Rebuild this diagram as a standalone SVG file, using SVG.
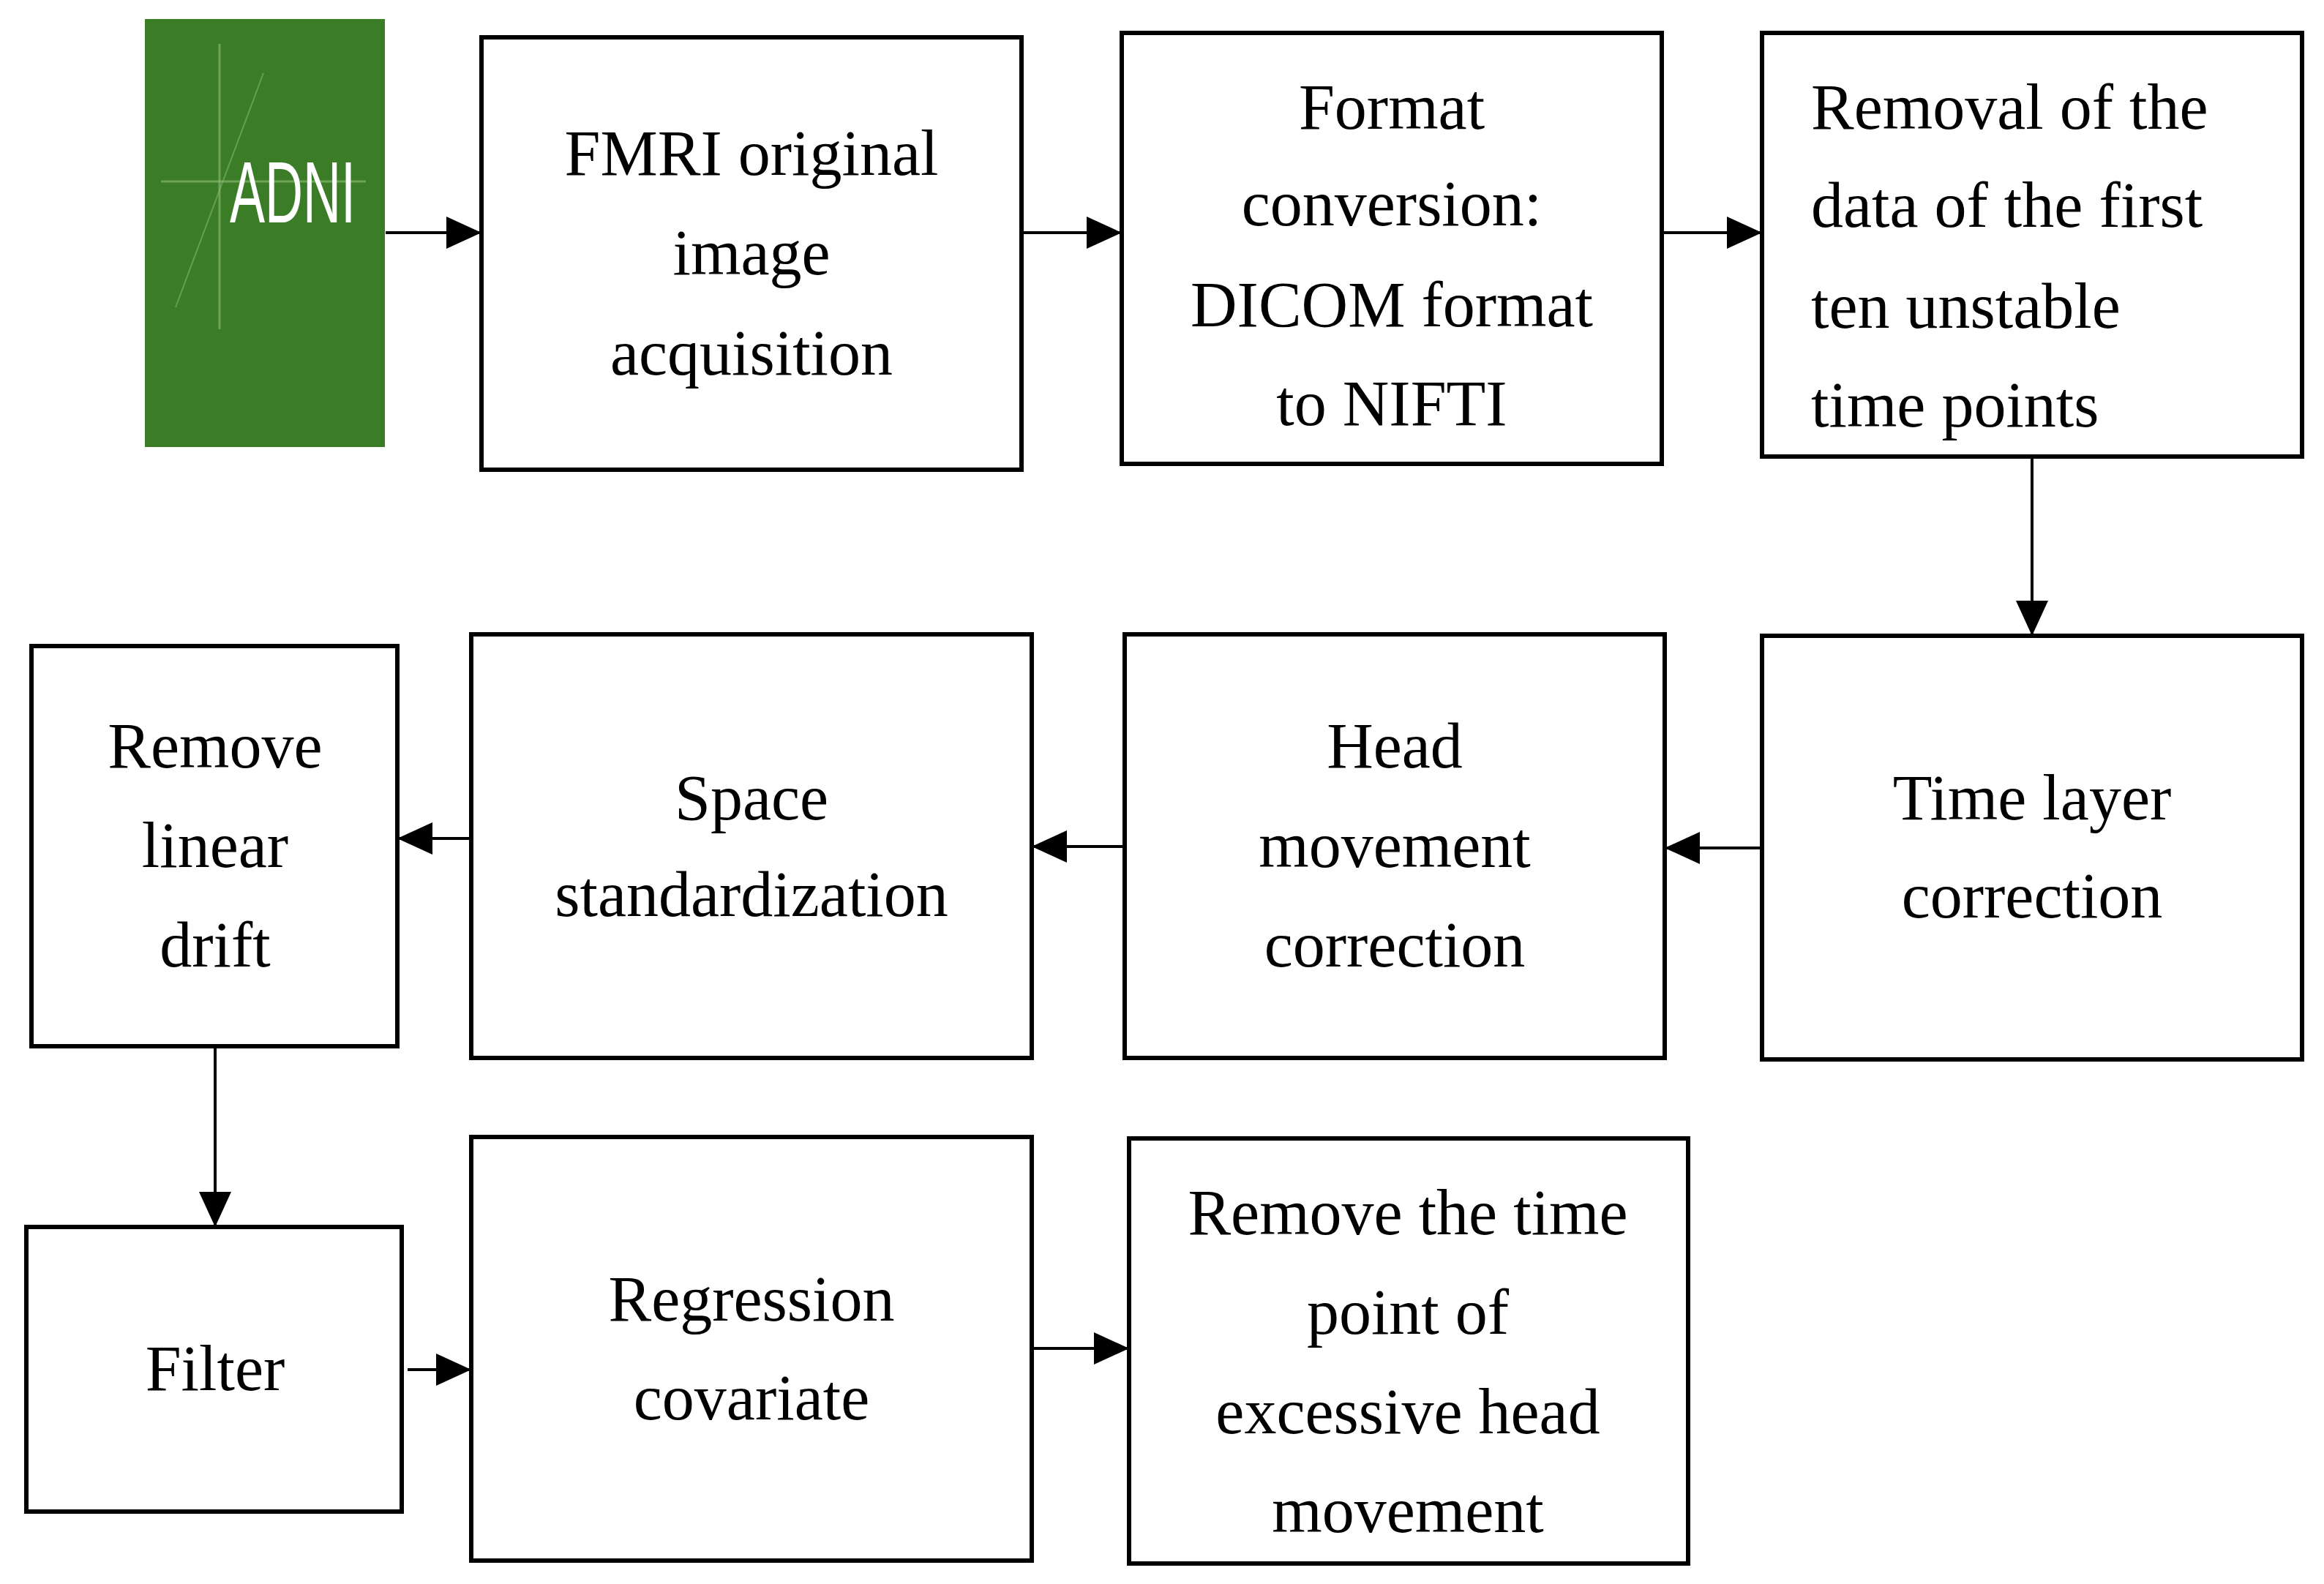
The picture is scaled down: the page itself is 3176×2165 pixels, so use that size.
<svg xmlns="http://www.w3.org/2000/svg" width="3176" height="2165" viewBox="0 0 3176 2165">
<style>
.b{fill:#fff;stroke:#000;stroke-width:6}
.t{font-family:"Liberation Serif","DejaVu Serif",serif;font-size:88px;fill:#000;text-anchor:middle}
.l{text-anchor:start}
.c line{stroke:#000;stroke-width:4;marker-end:url(#a)}
</style>
<defs><marker id="a" viewBox="0 0 10 10" refX="10" refY="5" markerWidth="48" markerHeight="44" markerUnits="userSpaceOnUse" orient="auto" preserveAspectRatio="none"><path d="M0,0L10,5L0,10z"/></marker></defs>
<rect width="3176" height="2165" fill="#fff"/>
<g id="adni">
<rect x="198" y="26" width="328" height="585" fill="#3b7d27"/>
<line x1="300" y1="60" x2="300" y2="450" stroke="#8fbf7a" stroke-width="3" opacity="0.6"/>
<line x1="220" y1="248" x2="500" y2="248" stroke="#8fbf7a" stroke-width="3" opacity="0.6"/>
<line x1="360" y1="100" x2="240" y2="420" stroke="#8fbf7a" stroke-width="2" opacity="0.5"/>
<text x="314" y="304" font-family="Liberation Sans,sans-serif" font-size="118" fill="#fff" textLength="172" lengthAdjust="spacingAndGlyphs">ADNI</text>
</g>
<g id="n1"><rect class="b" x="658" y="51" width="738" height="591"/><text class="t" x="1027" y="239">FMRI original</text><text class="t" x="1027" y="375">image</text><text class="t" x="1027" y="512">acquisition</text></g>
<g id="n2"><rect class="b" x="1533" y="45" width="738" height="589"/><text class="t" x="1902" y="176">Format</text><text class="t" x="1902" y="308">conversion:</text><text class="t" x="1902" y="446">DICOM format</text><text class="t" x="1902" y="581">to NIFTI</text></g>
<g id="n3"><rect class="b" x="2408" y="45" width="738" height="579"/><text class="t l" x="2475" y="176">Removal of the</text><text class="t l" x="2475" y="310">data of the first</text><text class="t l" x="2475" y="448">ten unstable</text><text class="t l" x="2475" y="583">time points</text></g>
<g id="n4"><rect class="b" x="2408" y="869" width="738" height="579"/><text class="t" x="2777" y="1120">Time layer</text><text class="t" x="2777" y="1254">correction</text></g>
<g id="n5"><rect class="b" x="1537" y="867" width="738" height="579"/><text class="t" x="1906" y="1049">Head</text><text class="t" x="1906" y="1185">movement</text><text class="t" x="1906" y="1321">correction</text></g>
<g id="n6"><rect class="b" x="644" y="867" width="766" height="579"/><text class="t" x="1027" y="1120">Space</text><text class="t" x="1027" y="1252">standardization</text></g>
<g id="n7"><rect class="b" x="43" y="883" width="500" height="547"/><text class="t" x="294" y="1049">Remove</text><text class="t" x="294" y="1185">linear</text><text class="t" x="294" y="1321">drift</text></g>
<g id="n8"><rect class="b" x="36" y="1677" width="513" height="389"/><text class="t" x="294" y="1900">Filter</text></g>
<g id="n9"><rect class="b" x="644" y="1554" width="766" height="579"/><text class="t" x="1027" y="1805">Regression</text><text class="t" x="1027" y="1940">covariate</text></g>
<g id="n10"><rect class="b" x="1543" y="1556" width="764" height="581"/><text class="t" x="1924" y="1687">Remove the time</text><text class="t" x="1924" y="1823">point of</text><text class="t" x="1924" y="1959">excessive head</text><text class="t" x="1924" y="2094">movement</text></g>
<g class="c">
<line x1="527" y1="318" x2="658" y2="318"/>
<line x1="1396" y1="318" x2="1533" y2="318"/>
<line x1="2271" y1="318" x2="2408" y2="318"/>
<line x1="2777" y1="624" x2="2777" y2="869"/>
<line x1="2408" y1="1159" x2="2275" y2="1159"/>
<line x1="1537" y1="1157" x2="1410" y2="1157"/>
<line x1="644" y1="1146" x2="543" y2="1146"/>
<line x1="294" y1="1430" x2="294" y2="1677"/>
<line x1="557" y1="1872" x2="644" y2="1872"/>
<line x1="1410" y1="1843" x2="1543" y2="1843"/>
</g>
</svg>
